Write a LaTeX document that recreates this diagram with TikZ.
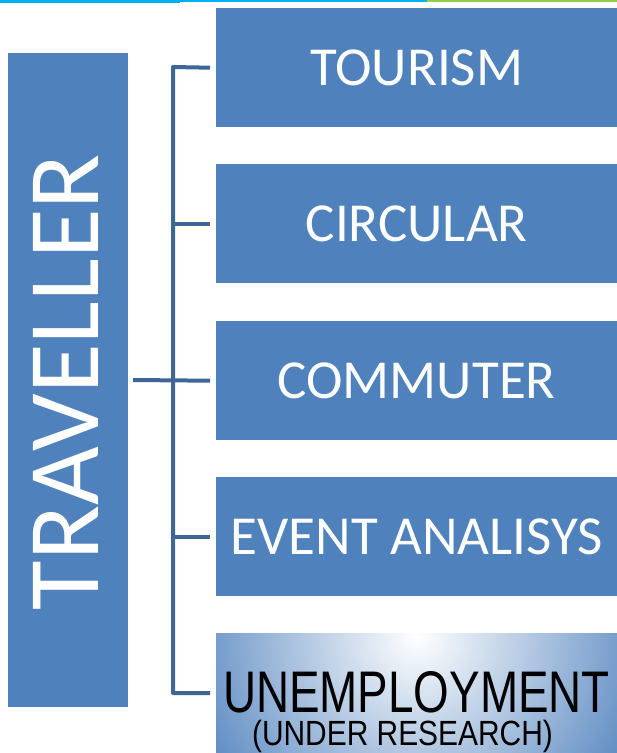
\documentclass[tikz,border=0pt]{standalone}
\usepackage{fontspec}
\setmainfont{Carlito}
\newfontfamily\arialf{Liberation Sans}
\definecolor{boxblue}{HTML}{4F81BD}
\definecolor{linkblue}{HTML}{3F6696}
\definecolor{topcyan}{HTML}{00B0F0}
\definecolor{topgreen}{HTML}{92D050}
\begin{document}
\begin{tikzpicture}[x=1pt,y=-1pt,
  catbox/.style={fill=boxblue, draw=none, minimum width=401pt, minimum height=119pt, inner sep=0pt, anchor=north west, text=white, font=\fontsize{55}{55}\selectfont},
  link/.style={draw=linkblue, line width=4pt}]
\useasboundingbox (0,0) rectangle (617,753);
\fill[topcyan] (0,0) rectangle (180,3);
\fill[topcyan] (180,0) rectangle (427,1.5);
\fill[topgreen] (427,0) rectangle (617,1.5);
\node[fill=boxblue, minimum width=120pt, minimum height=654pt, inner sep=0pt, anchor=north west] (trav) at (8,53) {};
\node[text=white, rotate=90, font=\fontsize{101.5}{101.5}\selectfont] (travt) at (66,382) {TRAVELLER};
\node[catbox] (tour) at (216,8) {TOURISM};
\node[catbox] (circ) at (216,164) {CIRCULAR};
\node[catbox] (comm) at (216,321) {COMMUTER};
\node[catbox] (event) at (216,477) {EVENT ANALISYS};
\node[fill=boxblue, minimum width=401pt, minimum height=120pt, inner sep=0pt, anchor=north west] (unemp) at (216,633) {};
\begin{scope}
\clip (216,633) rectangle (617,753);
\shade[inner color=white, outer color=boxblue] (417,636) circle (260);
\end{scope}
\node[font=\arialf\fontsize{58.7}{58.7}\selectfont, anchor=base, inner sep=0pt, xscale=0.78] (unt) at (416.5,712) {UNEMPLOYMENT};
\node[font=\arialf\fontsize{35}{35}\selectfont, anchor=base, inner sep=0pt, xscale=0.855] (unr) at (402.5,745) {(UNDER RESEARCH)};
\coordinate (spinetop) at (173,67);
\coordinate (spinebot) at (173,693);
\coordinate (uend) at (210,693);
\coordinate (tstart) at (133,380);
\draw[link, line join=round] ([xshift=-6pt]tour.west) -- (spinetop) -- (spinebot) -- (uend);
\draw[link] ([xshift=-6pt]circ.west) -- (circ.west -| spinetop);
\draw[link] ([xshift=-6pt]comm.west) -- (tstart);
\draw[link] ([xshift=-6pt]event.west) -- (event.west -| spinetop);
\end{tikzpicture}
\end{document}
